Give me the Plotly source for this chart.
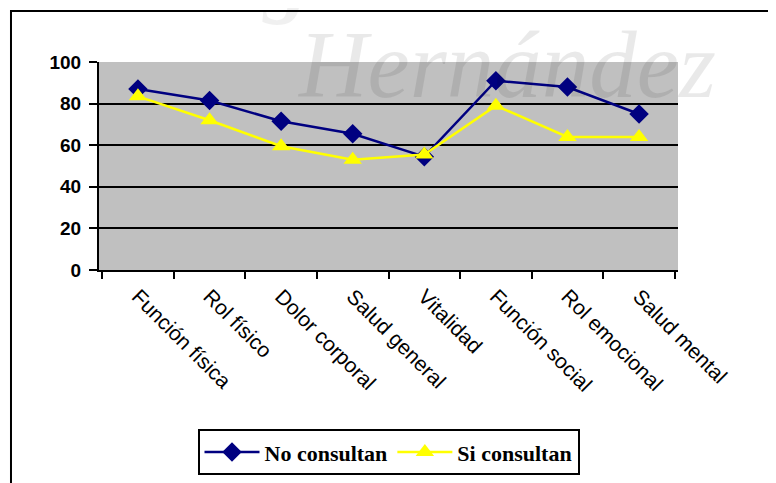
import plotly.graph_objects as go

categorias = ["Función física", "Rol físico", "Dolor corporal", "Salud general",
              "Vitalidad", "Función social", "Rol emocional", "Salud mental"]
no_consultan = [87, 81.5, 71.5, 65.5, 54.5, 91, 88, 75]
si_consultan = [83.5, 72, 59.5, 53, 55.5, 79, 64, 64]

fig = go.Figure()
fig.add_trace(go.Scatter(
    x=categorias, y=no_consultan, name="No consultan", mode="lines+markers",
    line=dict(color="#000080", width=2.5),
    marker=dict(symbol="diamond", size=15, color="#000080"),
))
fig.add_trace(go.Scatter(
    x=categorias, y=si_consultan, name="Si consultan", mode="lines+markers",
    line=dict(color="#ffff00", width=2.5),
    marker=dict(symbol="triangle-up", size=16, color="#ffff00"),
))

# the page body adds an 8px offset, so the figure is 8px smaller
fig.update_layout(
    width=768, height=475,
    margin=dict(l=91, r=98, t=54, b=213, autoexpand=False),
    paper_bgcolor="white",
    plot_bgcolor="#c0c0c0",
    showlegend=True,
    legend=dict(
        orientation="h", x=0.5, xanchor="center", y=-0.765, yanchor="top",
        bordercolor="black", borderwidth=2, bgcolor="white", itemwidth=55,
        font=dict(family="Liberation Serif", size=22, color="black", weight="bold"),
    ),
    xaxis=dict(
        tickangle=45, tickson="boundaries", ticks="outside", ticklen=7,
        tickwidth=2, tickcolor="black", showline=True, linecolor="black",
        linewidth=2, showgrid=False, automargin=False, ticklabelstandoff=4,
        tickfont=dict(family="Liberation Sans", size=21, color="black"),
    ),
    yaxis=dict(
        range=[0, 100], dtick=20, ticks="outside", ticklen=8, tickwidth=2,
        tickcolor="black", showline=True, linecolor="black", linewidth=2,
        gridcolor="black", gridwidth=2, zeroline=False, automargin=False,
        ticklabelstandoff=4,
        tickfont=dict(family="Liberation Sans", size=19, color="black", weight="bold"),
    ),
)

# outer chart frame
fig.add_shape(type="rect", xref="paper", yref="paper",
              x0=-0.152, x1=1.25, y0=-1.2, y1=1.245,
              line=dict(color="black", width=2), fillcolor="rgba(0,0,0,0)")

# faint watermark
fig.add_annotation(text="Hernández", xref="paper", yref="paper", x=0.703, y=0.986,
                   xanchor="center", yanchor="middle", showarrow=False,
                   font=dict(family="Liberation Serif", size=95, color="rgba(0,0,0,0.085)",
                             style="italic"))
fig.add_annotation(text="Miguel", xref="paper", yref="paper", x=0.33, y=1.17,
                   xanchor="center", yanchor="bottom", showarrow=False,
                   font=dict(family="Liberation Serif", size=90, color="rgba(0,0,0,0.06)",
                             style="italic", weight="bold"))

fig.write_html("out.html")
